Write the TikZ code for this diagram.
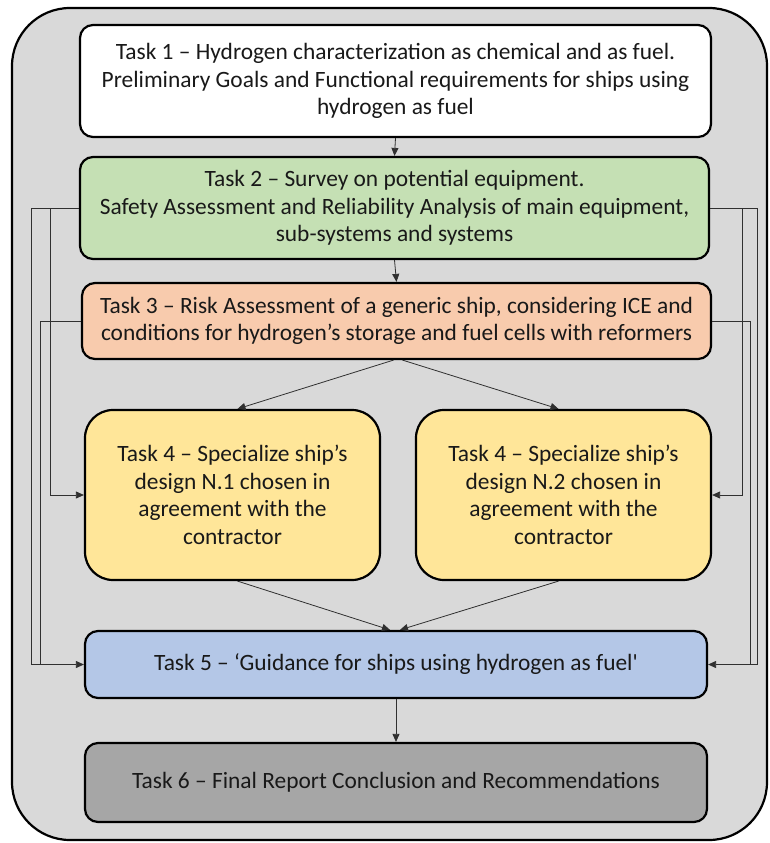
\documentclass[tikz,border=0pt]{standalone}
\usepackage{fontspec}
\setmainfont{Carlito}
\usetikzlibrary{arrows.meta,calc}
\definecolor{bgc}{HTML}{D9D9D9}
\definecolor{t2c}{HTML}{C5E0B4}
\definecolor{t3c}{HTML}{F8CBAD}
\definecolor{t4c}{HTML}{FFE699}
\definecolor{t5c}{HTML}{B4C7E7}
\definecolor{t6c}{HTML}{A6A6A6}
\definecolor{linec}{HTML}{303030}
\begin{document}
\begin{tikzpicture}[x=1pt,y=-1pt,
  taskbox/.style={draw=black,line width=2.2pt,rounded corners=13pt,align=center,
    inner sep=0pt,font=\fontsize{23.4}{27.5}\selectfont,text=black!90},
  bigbox/.style={taskbox,rounded corners=28pt},
  arr/.style={draw=linec,line width=0.8pt,-{Triangle[length=8pt,width=7pt]}},
  ln/.style={draw=linec,line width=0.8pt}]
\useasboundingbox (0,0) rectangle (769,843);
\draw[fill=bgc,line width=2.2pt,rounded corners=58pt] (12,8) rectangle (767,840);
\node[taskbox,fill=white,minimum width=631pt,minimum height=112pt] (t1) at (395.5,81)
  {Task 1 -- Hydrogen characterization as chemical and as fuel.\\Preliminary Goals and Functional requirements for ships using\\hydrogen as fuel};
\node[taskbox,fill=t2c,minimum width=629pt,minimum height=102pt] (t2) at (394.5,208)
  {Task 2 -- Survey on potential equipment.\\Safety Assessment and Reliability Analysis of main equipment,\\sub-systems and systems};
\node[taskbox,fill=t3c,minimum width=629pt,minimum height=76pt] (t3) at (396.5,321)
  {Task 3 -- Risk Assessment of a generic ship, considering ICE and\\conditions for hydrogen’s storage and fuel cells with reformers};
\node[bigbox,fill=t4c,minimum width=295pt,minimum height=170pt] (t4a) at (232.5,495)
  {Task 4 -- Specialize ship’s\\design N.1 chosen in\\agreement with the\\contractor};
\node[bigbox,fill=t4c,minimum width=295pt,minimum height=170pt] (t4b) at (563.5,495)
  {Task 4 -- Specialize ship’s\\design N.2 chosen in\\agreement with the\\contractor};
\node[taskbox,fill=t5c,minimum width=622pt,minimum height=67pt] (t5) at (396,664.5)
  {Task 5 -- ‘Guidance for ships using hydrogen as fuel\textquotesingle};
\node[taskbox,fill=t6c,minimum width=622pt,minimum height=79pt] (t6) at (396,782.5)
  {Task 6 -- Final Report Conclusion and Recommendations};
% vertical flow
\draw[arr] (t1.south) -- (t2.north);
\draw[arr] (t2.south) -- (t3.north);
\draw[arr] ([xshift=-3pt]t3.south) -- ([xshift=5pt]t4a.north);
\draw[arr] ([xshift=6pt]t3.south) -- ([xshift=-5pt]t4b.north);
\draw[arr] ([xshift=5pt]t4a.south) -- ([xshift=-6pt]t5.north);
\draw[arr] ([xshift=-5pt]t4b.south) -- ([xshift=4pt]t5.north);
\draw[arr] (t5.south) -- (t6.north);
% side routes
\coordinate (L1) at (31,0);
\coordinate (L2) at (50,0);
\coordinate (L3) at (40,0);
\coordinate (R1) at (757,0);
\coordinate (R2) at (742,0);
\coordinate (R3) at (750,0);
\draw[ln] (t2.west) -- (t2.west -| L1);
\draw[arr] (t2.west -| L2) |- (t4a.west);
\draw[arr] (t2.west -| L1) |- (t5.west);
\draw[ln] (t3.west) -- (t3.west -| L3) -- (t5.west -| L3);
\draw[ln] (t2.east) -- (t2.east -| R1);
\draw[arr] (t2.east -| R2) |- (t4b.east);
\draw[arr] (t2.east -| R1) |- (t5.east);
\draw[ln] (t3.east) -- (t3.east -| R3) -- (t5.east -| R3);
\end{tikzpicture}
\end{document}
